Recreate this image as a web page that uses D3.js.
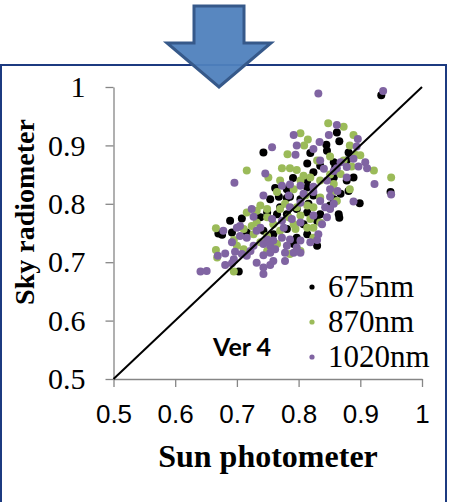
<!DOCTYPE html>
<html>
<head>
<meta charset="utf-8">
<script src="https://cdn.jsdelivr.net/npm/d3@7"></script>
<style>
  body { margin: 0; background: #fff; }
</style>
</head>
<body>
<svg id="chart" width="455" height="502"></svg>
<script>
// values: [sun photometer, sky radiometer]
const nm675 = [
  [0.934, 0.986], [0.862, 0.922], [0.845, 0.901], [0.866, 0.907], [0.743, 0.888],
  [0.819, 0.887], [0.846, 0.891], [0.881, 0.888], [0.814, 0.869], [0.835, 0.865],
  [0.857, 0.871], [0.878, 0.874], [0.859, 0.861], [0.889, 0.845], [0.878, 0.840],
  [0.857, 0.845], [0.791, 0.844], [0.824, 0.854], [0.814, 0.840], [0.781, 0.825],
  [0.762, 0.827], [0.814, 0.828], [0.949, 0.820], [0.899, 0.801], [0.754, 0.808],
  [0.768, 0.812], [0.781, 0.810], [0.803, 0.808], [0.824, 0.814], [0.857, 0.808],
  [0.868, 0.817], [0.881, 0.822], [0.851, 0.797], [0.816, 0.800], [0.689, 0.771],
  [0.708, 0.775], [0.738, 0.777], [0.749, 0.785], [0.765, 0.782], [0.781, 0.782],
  [0.797, 0.791], [0.814, 0.785], [0.835, 0.782], [0.865, 0.782], [0.866, 0.776],
  [0.830, 0.771], [0.808, 0.765], [0.670, 0.749], [0.676, 0.747], [0.692, 0.751],
  [0.716, 0.751], [0.743, 0.754], [0.759, 0.748], [0.781, 0.757], [0.797, 0.742],
  [0.814, 0.748], [0.830, 0.728], [0.792, 0.731], [0.703, 0.684], [0.786, 0.812],
  [0.770, 0.794]
];
const nm870 = [
  [0.848, 0.938], [0.873, 0.932], [0.803, 0.921], [0.815, 0.910], [0.809, 0.900],
  [0.889, 0.918], [0.883, 0.900], [0.782, 0.885], [0.892, 0.884], [0.900, 0.883],
  [0.851, 0.881], [0.873, 0.874], [0.830, 0.874], [0.786, 0.861], [0.797, 0.858],
  [0.886, 0.864], [0.773, 0.861], [0.922, 0.857], [0.716, 0.857], [0.808, 0.848],
  [0.819, 0.845], [0.851, 0.850], [0.868, 0.851], [0.751, 0.845], [0.770, 0.840],
  [0.803, 0.840], [0.835, 0.840], [0.857, 0.834], [0.883, 0.825], [0.950, 0.845],
  [0.765, 0.820], [0.792, 0.825], [0.811, 0.814], [0.835, 0.811], [0.857, 0.822],
  [0.814, 0.797], [0.797, 0.794], [0.738, 0.797], [0.749, 0.791], [0.778, 0.800],
  [0.824, 0.794], [0.862, 0.805], [0.716, 0.785], [0.732, 0.788], [0.749, 0.777],
  [0.770, 0.791], [0.784, 0.777], [0.803, 0.780], [0.819, 0.774], [0.835, 0.768],
  [0.824, 0.759], [0.759, 0.765], [0.724, 0.762], [0.792, 0.765], [0.732, 0.768],
  [0.666, 0.758], [0.695, 0.738], [0.711, 0.757], [0.727, 0.748], [0.749, 0.745],
  [0.770, 0.754], [0.795, 0.757], [0.814, 0.759], [0.824, 0.742], [0.765, 0.731],
  [0.738, 0.734], [0.700, 0.728], [0.666, 0.721], [0.668, 0.708], [0.695, 0.684],
  [0.786, 0.714], [0.803, 0.719], [0.749, 0.719], [0.711, 0.722]
];
const nm1020 = [
  [0.832, 0.989], [0.937, 0.993], [0.696, 0.836], [0.641, 0.684], [0.651, 0.685],
  [0.743, 0.680], [0.923, 0.834], [0.950, 0.816], [0.889, 0.804], [0.757, 0.897],
  [0.746, 0.852], [0.862, 0.935], [0.792, 0.918], [0.849, 0.918], [0.896, 0.911],
  [0.834, 0.906], [0.797, 0.900], [0.894, 0.898], [0.824, 0.894], [0.795, 0.884],
  [0.835, 0.874], [0.868, 0.871], [0.889, 0.877], [0.908, 0.871], [0.897, 0.864],
  [0.911, 0.861], [0.878, 0.863], [0.862, 0.861], [0.841, 0.860], [0.878, 0.845],
  [0.857, 0.856], [0.846, 0.840], [0.773, 0.831], [0.786, 0.833], [0.803, 0.831],
  [0.824, 0.829], [0.851, 0.825], [0.863, 0.822], [0.743, 0.814], [0.784, 0.814],
  [0.808, 0.817], [0.824, 0.820], [0.835, 0.805], [0.851, 0.812], [0.857, 0.800],
  [0.843, 0.794], [0.803, 0.802], [0.786, 0.794], [0.724, 0.791], [0.727, 0.778],
  [0.757, 0.774], [0.773, 0.771], [0.789, 0.774], [0.803, 0.768], [0.824, 0.780],
  [0.851, 0.791], [0.846, 0.777], [0.838, 0.765], [0.705, 0.762], [0.738, 0.759],
  [0.776, 0.759], [0.700, 0.759], [0.705, 0.745], [0.716, 0.742], [0.732, 0.754],
  [0.749, 0.739], [0.759, 0.737], [0.773, 0.742], [0.786, 0.739], [0.803, 0.737],
  [0.819, 0.734], [0.832, 0.748], [0.830, 0.738], [0.692, 0.734], [0.727, 0.728],
  [0.743, 0.731], [0.754, 0.728], [0.781, 0.728], [0.797, 0.725], [0.678, 0.754],
  [0.669, 0.711], [0.681, 0.715], [0.697, 0.718], [0.695, 0.705], [0.708, 0.714],
  [0.692, 0.698], [0.681, 0.695], [0.716, 0.711], [0.732, 0.699], [0.743, 0.712],
  [0.754, 0.716], [0.762, 0.722], [0.778, 0.702], [0.778, 0.716], [0.792, 0.716],
  [0.803, 0.716], [0.743, 0.691], [0.759, 0.702], [0.722, 0.719], [0.754, 0.695]
];

const seriesNames = ["675nm", "870nm", "1020nm"];
const seriesColors = ["#000000", "#9BBB59", "#8064A2"];
const tickValues = [0.5, 0.6, 0.7, 0.8, 0.9, 1];
const oneToOne = [[0.5, 0.5], [1, 1]];

const svgEl = d3.select("#chart");

// X scale
const x_scale = d3.scaleLinear().domain([0.5, 1]).range([113.5, 422]);
// Y scale
const y_scale = d3.scaleLinear().domain([0.5, 1]).range([379, 87]);

// frame round the chart
svgEl
  .append("rect")
  .attr("x", 1)
  .attr("y", 65)
  .attr("width", 445)
  .attr("height", 460)
  .attr("fill", "none")
  .attr("stroke", "#1c3a80")
  .attr("stroke-width", 2);

const fmt = (d) => (d === 1 ? "1" : d.toFixed(1));

/* X AXIS */
const xAxis = svgEl
  .append("g")
  .attr("transform", "translate(0,379)")
  .call(d3.axisBottom(x_scale).tickValues(tickValues).tickFormat(fmt).tickSize(8).tickSizeOuter(0).tickPadding(18));
xAxis.selectAll("text")
  .attr("font-family", "'Liberation Sans', Arial, sans-serif")
  .attr("font-size", 26)
  .attr("fill", "#000");

/* Y AXIS */
const yAxis = svgEl
  .append("g")
  .attr("transform", "translate(113.5,0)")
  .call(d3.axisLeft(y_scale).tickValues(tickValues).tickFormat(fmt).tickSize(8).tickSizeOuter(0).tickPadding(20));
yAxis.selectAll("text")
  .attr("font-family", "'Liberation Serif', 'Times New Roman', serif")
  .attr("font-size", 30)
  .attr("fill", "#000");

svgEl.selectAll(".domain, .tick line").attr("stroke", "#868686").attr("stroke-width", 1.3);

/* points, one series after the other */
const allSeries = [nm675, nm870, nm1020];
allSeries.forEach((data, i) => {
  svgEl
    .append("g")
    .selectAll("circle")
    .data(data)
    .join("circle")
    .attr("cx", (d) => x_scale(d[0]))
    .attr("cy", (d) => y_scale(d[1]))
    .attr("r", 4)
    .attr("fill", seriesColors[i]);
});

// 1:1 line
svgEl
  .append("path")
  .datum(oneToOne)
  .attr("fill", "none")
  .attr("stroke", "#000")
  .attr("stroke-width", 2)
  .attr("d", d3.line().x((d) => x_scale(d[0])).y((d) => y_scale(d[1])));

/* legend */
const legend = svgEl
  .append("g")
  .selectAll("g")
  .data(seriesNames)
  .join("g")
  .attr("transform", (d, i) => "translate(312," + (287 + i * 35) + ")");
legend
  .append("circle")
  .attr("r", 2.6)
  .attr("fill", (d, i) => seriesColors[i]);
legend
  .append("text")
  .attr("x", 16)
  .attr("y", 10)
  .attr("font-family", "'Liberation Serif', 'Times New Roman', serif")
  .attr("font-size", 31)
  .text((d) => d);

// Ver 4 note
svgEl
  .append("text")
  .attr("x", 213)
  .attr("y", 356)
  .attr("font-family", "Lato, 'Liberation Sans', sans-serif")
  .attr("font-weight", "bold")
  .attr("font-size", 25)
  .text("Ver 4");

/* axis labels */
svgEl
  .append("text")
  .attr("x", 268)
  .attr("y", 467)
  .attr("text-anchor", "middle")
  .attr("font-family", "'Liberation Serif', 'Times New Roman', serif")
  .attr("font-weight", "bold")
  .attr("font-size", 32)
  .text("Sun photometer");

svgEl
  .append("text")
  .attr("transform", "translate(34,212) rotate(-90)")
  .attr("text-anchor", "middle")
  .attr("font-family", "'Liberation Serif', 'Times New Roman', serif")
  .attr("font-weight", "bold")
  .attr("font-size", 28)
  .text("Sky radiometer");

// block arrow pointing down at the chart
const arrowPts = [[194, 6], [244, 6], [244, 43], [271, 43], [219, 87], [167, 43], [194, 43]];
svgEl
  .append("path")
  .attr("d", d3.line()(arrowPts) + "Z")
  .attr("fill", "#4F81BD")
  .attr("fill-opacity", 0.95)
  .attr("stroke", "#36598a")
  .attr("stroke-width", 3)
  .attr("stroke-linejoin", "miter");
</script>
</body>
</html>
